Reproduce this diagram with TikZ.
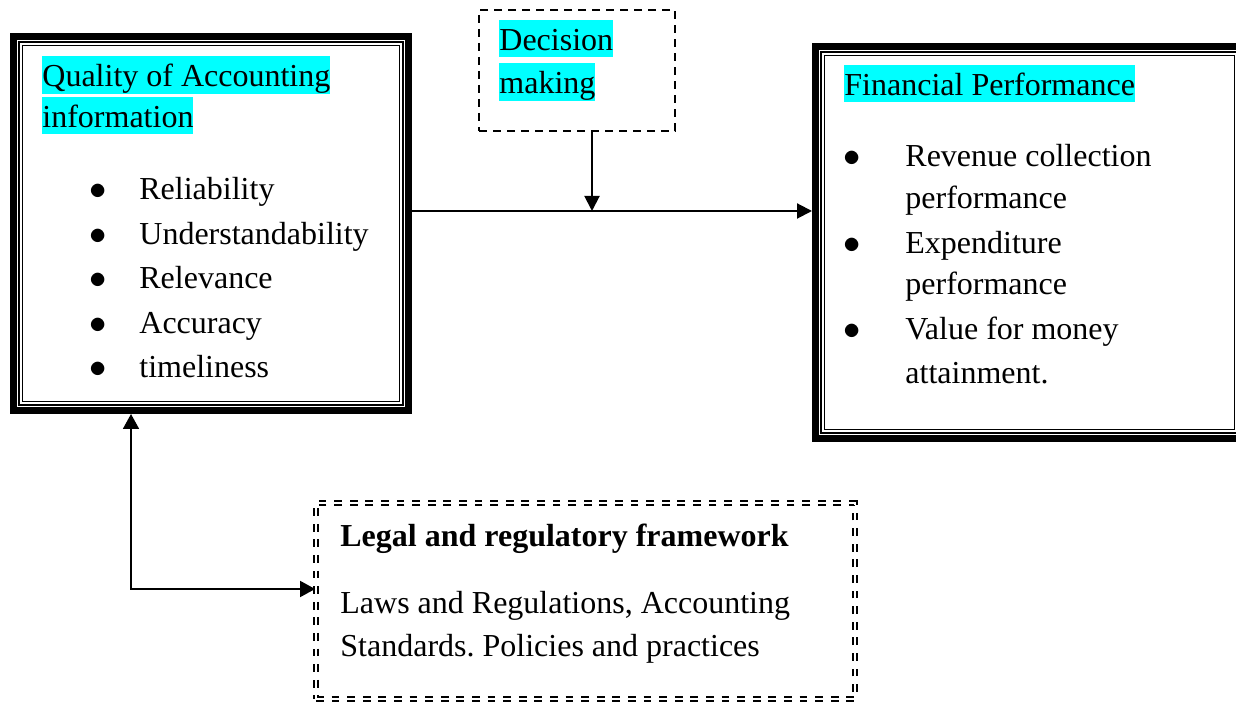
\documentclass[tikz,border=0pt]{standalone}
\usepackage[rgb]{xcolor}
\usepackage{tikz}
\usepackage{fontspec}
\setmainfont{Liberation Serif}
\usetikzlibrary{arrows.meta}
\frenchspacing

% cyan marker behind a heading line
\newcommand{\hlite}[1]{{\setlength{\fboxsep}{0pt}\colorbox{cyan}{\rule[-3pt]{0pt}{18.5pt}#1}}}

\tikzset{
  txt/.style={anchor=base west, inner sep=0pt, yshift=-1pt, font=\fontsize{16}{20}\selectfont},
  dot/.style={anchor=base, inner sep=0pt, yshift=-1pt, font=\fontsize{16}{20}\selectfont},
  conn/.style={line width=1pt, -{Triangle[length=7.5pt,width=7.5pt]}}
}

\begin{document}
\begin{tikzpicture}[x=0.5pt, y=-0.5pt]

\clip (0,0) rectangle (1236,704);




% Quality of accounting information box
\node[draw, line width=3.5pt, minimum width=197.5pt, minimum height=187pt] (quality) at (211,223.5) {};

\path
(42,85)  node[txt] (qhead1) {\hlite{Quality of Accounting}}
(42,126) node[txt] (qhead2) {\hlite{information}};

\foreach \y/\w [count=\i] in {198/Reliability, 243/Understandability, 287/Relevance, 332/Accuracy, 376/timeliness}
  \path (98,\y) node[dot] (qdot\i) {$\bullet$} (139,\y) node[txt] (qitem\i) {\w};


% Financial performance box
\node[draw, line width=3.5pt, minimum width=214pt, minimum height=196pt] (finance) at (1029.5,242.5) {};

\path
(844,94) node[txt] (fhead) {\hlite{Financial Performance}}
(852,165) node[dot] (fdot1) {$\bullet$}
(905,165) node[txt] (fitem1) {Revenue collection}
(905,207) node[txt] (fitem1b) {performance}
(852,252) node[dot] (fdot2) {$\bullet$}
(905,252) node[txt] (fitem2) {Expenditure}
(905,293) node[txt] (fitem2b) {performance}
(852,338) node[dot] (fdot3) {$\bullet$}
(905,338) node[txt] (fitem3) {Value for money}
(905,382) node[txt] (fitem3b) {attainment.};

% thin inner frames
\foreach \b/\d in {quality/9, quality/12.5, finance/9, finance/12.5}
  \draw[line width=0.7pt] ([shift={(\d,\d)}]\b.north west) rectangle ([shift={(-\d,-\d)}]\b.south east);


% Decision making box
\node[draw, line width=1pt, dash pattern=on 4pt off 3pt, minimum width=98pt, minimum height=60.5pt] (decision) at (577,70.5) {};

\path
(499,49) node[txt] (dhead1) {\hlite{Decision}}
(499,92) node[txt] (dhead2) {\hlite{making}};


% Legal and regulatory framework box
\node[draw, line width=0.9pt, double, double distance=1.1pt, dash pattern=on 3.9pt off 3.9pt,
      minimum width=269.5pt, minimum height=98pt] (legal) at (585.5,601) {};

\path
(340,545) node[txt] (lhead) {\bfseries Legal and regulatory framework}
(340,612) node[txt] (ltext1) {Laws and Regulations, Accounting}
(340,655) node[txt] (ltext2) {Standards. Policies and practices};


% links
\coordinate (join) at (592,211);
\coordinate (bend) at (131,589);

\draw[conn] (quality.east |- join) -- (join -| finance.west);
\draw[conn] (join |- decision.south) -- (join);
\draw[conn, {Triangle[length=7.5pt,width=8pt]}-{Triangle[length=7.5pt,width=8pt]}, line width=0.9pt]
  (bend |- quality.south) -- (bend) -- (bend -| legal.west);




\end{tikzpicture}
\end{document}
